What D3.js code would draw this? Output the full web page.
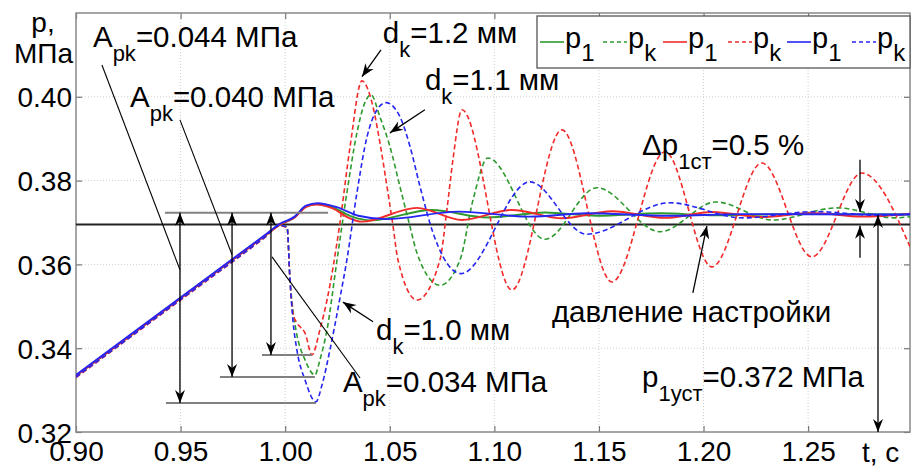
<!DOCTYPE html>
<html>
<head>
<meta charset="utf-8">
<script src="https://cdn.jsdelivr.net/npm/d3@7"></script>
<style>
body { margin: 0; background: #fff; }
svg text { font-family: "Liberation Sans", Arial, sans-serif; fill: #000; }
</style>
</head>
<body>
<svg id="chart" width="911" height="469"></svg>
<script>
// axis ticks
let xTicks = [0.90, 0.95, 1.00, 1.05, 1.10, 1.15, 1.20, 1.25];
let yTicks = [0.32, 0.34, 0.36, 0.38, 0.40];

// p_k (chamber pressure, dashed) and p_1 (solid), one per d_k, [t, p]
let pkGreen = [[0.9,0.3332],[0.95,0.3517],[0.99,0.3665],[0.9975,0.3693],[1.0009,0.3689],[1.0023,0.3563],[1.0037,0.3491],[1.0056,0.3432],
	[1.0095,0.3372],[1.0142,0.3336],[1.0166,0.3372],[1.0200,0.3444],[1.0248,0.3611],[1.0295,0.3771],[1.0343,0.3914],
	[1.0381,0.3986],[1.0410,0.4005],[1.0453,0.3952],[1.0501,0.3881],[1.0549,0.3785],[1.0597,0.3690],[1.0630,0.3627],
	[1.0740,0.3550],[1.0836,0.3611],[1.0898,0.3754],[1.0969,0.3854],[1.1242,0.3660],[1.1490,0.3783],[1.1792,0.3678],
	[1.2059,0.3749],[1.2332,0.3706],[1.2638,0.3735],[1.2915,0.3711],[1.2987,0.3714]];
let pkRed = [[0.9,0.3330],[0.95,0.3515],[0.99,0.3663],[0.9975,0.3692],[1.0009,0.3688],[1.0023,0.3563],[1.0037,0.3484],[1.0056,0.3460],
	[1.0071,0.3451],[1.0095,0.3436],[1.0128,0.3384],[1.0166,0.3444],[1.0200,0.3515],[1.0262,0.3700],[1.0310,0.3880],
	[1.0367,0.4038],[1.0415,0.3986],[1.0453,0.3890],[1.0487,0.3785],[1.0516,0.3690],[1.0539,0.3611],[1.0630,0.3515],
	[1.0740,0.3611],[1.0773,0.3730],[1.0802,0.3850],[1.0845,0.3969],[1.1084,0.3539],[1.1323,0.3921],[1.1562,0.3558],
	[1.1816,0.3869],[1.2040,0.3594],[1.2279,0.3842],[1.2518,0.3618],[1.2757,0.3818],[1.2987,0.3642]];
let pkBlue = [[0.9,0.3331],[0.95,0.3516],[0.99,0.3664],[0.9975,0.3693],[1.0009,0.3689],[1.0023,0.3563],[1.0037,0.3467],[1.0056,0.3396],
	[1.0095,0.3324],[1.0147,0.3272],[1.0176,0.3312],[1.0214,0.3396],[1.0262,0.3520],[1.0295,0.3611],[1.0343,0.3771],
	[1.0391,0.3904],[1.0439,0.3969],[1.0482,0.3986],[1.0549,0.3952],[1.0597,0.3881],[1.0645,0.3785],[1.0707,0.3675],
	[1.0755,0.3618],[1.0840,0.3578],[1.1170,0.3797],[1.1440,0.3672],[1.1839,0.3747],[1.2188,0.3711],[1.2533,0.3726],
	[1.2850,0.3717],[1.2987,0.3720]];
let p1Green = [[0.9,0.3334],[0.95,0.3519],[0.99,0.3667],[0.9975,0.3695],[1.0045,0.3712],[1.0100,0.3738],[1.0150,0.3744],[1.0240,0.3733],
	[1.0320,0.3714],[1.0410,0.3705],[1.0700,0.3730],[1.0969,0.3712],[1.1242,0.3724],[1.1490,0.3716],[1.1792,0.3722],
	[1.2059,0.3717],[1.2400,0.3720],[1.2987,0.3719]];
let p1Red = [[0.9,0.3334],[0.95,0.3519],[0.99,0.3667],[0.9975,0.3695],[1.0045,0.3712],[1.0100,0.3737],[1.0148,0.3743],[1.0230,0.3733],
	[1.0300,0.3712],[1.0367,0.3702],[1.0630,0.3735],[1.0845,0.3706],[1.1084,0.3730],[1.1323,0.3710],[1.1562,0.3727],
	[1.1816,0.3711],[1.2040,0.3725],[1.2279,0.3713],[1.2518,0.3723],[1.2757,0.3714],[1.2987,0.3721]];
let p1Blue = [[0.9,0.3336],[0.95,0.3521],[0.99,0.3669],[0.9975,0.3697],[1.0045,0.3714],[1.0100,0.3740],[1.0155,0.3746],[1.0250,0.3736],
	[1.0350,0.3716],[1.0482,0.3708],[1.0830,0.3726],[1.1170,0.3714],[1.1440,0.3722],[1.1839,0.3716],[1.2188,0.3720],
	[1.2987,0.3719]];

// draw order and legend order
let series = [
	{data: p1Green, color: '#2e9a2e', dashed: false, name: 'p', sub: '1'},
	{data: pkGreen, color: '#2e9a2e', dashed: true,  name: 'p', sub: 'k'},
	{data: p1Red,   color: '#f22a2a', dashed: false, name: 'p', sub: '1'},
	{data: pkRed,   color: '#f22a2a', dashed: true,  name: 'p', sub: 'k'},
	{data: p1Blue,  color: '#2626f2', dashed: false, name: 'p', sub: '1'},
	{data: pkBlue,  color: '#2626f2', dashed: true,  name: 'p', sub: 'k'}
];

// annotations, all in data units
let setPressure = 0.3695;
let levelLines = [[0.3723, 0.9425, 1.0205], [0.3384, 0.9889, 1.0128], [0.3331, 0.9688, 1.0142], [0.3269, 0.9430, 1.0147]];
let ampArrows = [[0.9497, 0.3723, 0.3269], [0.9746, 0.3723, 0.3331], [0.9932, 0.3723, 0.3384], [1.2834, 0.3718, 0.3200]];
let leaders = [[0.9124, 0.4076, 0.9497, 0.3587], [0.9497, 0.3945, 0.9746, 0.3623], [0.9937, 0.3618, 1.0358, 0.3329]];
let pointers = [[1.0458, 0.4112, 1.0367, 0.4048], [1.0668, 0.3969, 1.0501, 0.3914], [1.0420, 0.3463, 1.0276, 0.3510],
	[1.1949, 0.3532, 1.2016, 0.3692], [1.2748, 0.3850, 1.2748, 0.3725], [1.2748, 0.3616, 1.2748, 0.3692]];
let labels = [
	{t: 0.9081, p: 0.4119, main: 'A', sub: 'pk', rest: '=0.044 МПа'},
	{t: 0.9258, p: 0.3976, main: 'A', sub: 'pk', rest: '=0.040 МПа'},
	{t: 1.0276, p: 0.3296, main: 'A', sub: 'pk', rest: '=0.034 МПа'},
	{t: 1.0467, p: 0.4129, main: 'd', sub: 'k', rest: '=1.2 мм'},
	{t: 1.0668, p: 0.4017, main: 'd', sub: 'k', rest: '=1.1 мм'},
	{t: 1.0434, p: 0.3420, main: 'd', sub: 'k', rest: '=1.0 мм'},
	{t: 1.1706, p: 0.3861, main: 'Δp', sub: '1ст', rest: '=0.5 %'},
	{t: 1.1275, p: 0.3463, main: 'давление настройки', sub: '', rest: ''},
	{t: 1.1706, p: 0.3307, main: 'p', sub: '1уст', rest: '=0.372 МПа'}
];

let plotLeft = 76, plotRight = 910, plotTop = 13, plotBottom = 432;

let x = d3.scaleLinear().domain([0.9, 1.2987]).range([plotLeft, plotRight]);
let y = d3.scaleLinear().domain([0.32, 0.42]).range([plotBottom, plotTop]);

let svg = d3.select('#chart');

let defs = svg.append('defs');
defs.append('clipPath').attr('id', 'plotclip')
		.append('rect').attr('x', plotLeft).attr('y', plotTop)
		.attr('width', plotRight - plotLeft).attr('height', plotBottom - plotTop);
defs.append('marker')
		.attr('id', 'head')
		.attr('viewBox', '-14 -7 16 14')
		.attr('refX', 0).attr('refY', 0)
		.attr('markerWidth', 16).attr('markerHeight', 14)
		.attr('markerUnits', 'userSpaceOnUse')
		.attr('orient', 'auto-start-reverse')
		.append('path').attr('d', 'M0,0 L-13,-5 L-9,0 L-13,5 Z').attr('fill', '#000');

// grid
svg.append('g').selectAll('line').data(xTicks.slice(1)).enter().append('line')
		.attr('x1', d => x(d)).attr('x2', d => x(d)).attr('y1', plotTop).attr('y2', plotBottom)
		.attr('stroke', '#cfcfcf').attr('stroke-dasharray', '1,2');
svg.append('g').selectAll('line').data(yTicks.slice(1)).enter().append('line')
		.attr('x1', plotLeft).attr('x2', plotRight).attr('y1', d => y(d)).attr('y2', d => y(d))
		.attr('stroke', '#cfcfcf').attr('stroke-dasharray', '1,2');

// axes
let xAxisG = svg.append('g').attr('transform', 'translate(0,' + plotBottom + ')')
		.call(d3.axisBottom(x).tickValues(xTicks).tickSizeInner(-6).tickSizeOuter(0).tickFormat(d3.format('.2f')));
let topAxisG = svg.append('g').attr('transform', 'translate(0,' + plotTop + ')')
		.call(d3.axisTop(x).tickValues(xTicks).tickSizeInner(-6).tickSizeOuter(0).tickFormat(''));
let yAxisG = svg.append('g').attr('transform', 'translate(' + plotLeft + ',0)')
		.call(d3.axisLeft(y).tickValues(yTicks).tickSizeInner(-6).tickSizeOuter(0).tickFormat(d3.format('.2f')));
let rightAxisG = svg.append('g').attr('transform', 'translate(' + plotRight + ',0)')
		.call(d3.axisRight(y).tickValues(yTicks).tickSizeInner(-6).tickSizeOuter(0).tickFormat(''));

[xAxisG, topAxisG, yAxisG, rightAxisG].forEach(function(g) {
	g.select('.domain').remove();
	g.selectAll('.tick line').attr('stroke', '#777').attr('stroke-width', 1.2);
	g.selectAll('.tick text').attr('font-size', 28).attr('fill', '#000');
});
xAxisG.selectAll('.tick text').attr('y', 9).attr('dy', '0.71em');
yAxisG.selectAll('.tick text').attr('x', -4).attr('dy', '0.36em');

svg.append('rect').attr('x', plotLeft).attr('y', plotTop)
		.attr('width', plotRight - plotLeft).attr('height', plotBottom - plotTop)
		.attr('fill', 'none').attr('stroke', '#888').attr('stroke-width', 1.5);

// axis titles
svg.append('text').attr('x', 43).attr('y', 32).attr('font-size', 28).attr('text-anchor', 'middle').text('p,');
svg.append('text').attr('x', 73).attr('y', 63).attr('font-size', 28).attr('text-anchor', 'end').text('МПа');
svg.append('text').attr('x', 862).attr('y', 462).attr('font-size', 28).text('t, c');

// setting pressure line
svg.append('line').attr('x1', plotLeft).attr('x2', plotRight)
		.attr('y1', y(setPressure)).attr('y2', y(setPressure))
		.attr('stroke', '#222').attr('stroke-width', 2);

// curves
let line = d3.line().x(d => x(d[0])).y(d => y(d[1])).curve(d3.curveMonotoneX);
svg.append('g').attr('clip-path', 'url(#plotclip)')
		.selectAll('path').data(series).enter().append('path')
		.attr('d', d => line(d.data))
		.attr('fill', 'none')
		.attr('stroke', d => d.color)
		.attr('stroke-width', d => d.dashed ? 1.6 : 1.9)
		.attr('stroke-dasharray', d => d.dashed ? '5,3' : null);

// level marks and arrows
let ann = svg.append('g');
ann.selectAll('.level').data(levelLines).enter().append('line')
		.attr('x1', d => x(d[1])).attr('x2', d => x(d[2])).attr('y1', d => y(d[0])).attr('y2', d => y(d[0]))
		.attr('stroke', '#808080').attr('stroke-width', 2);
ann.selectAll('.amp').data(ampArrows).enter().append('line')
		.attr('x1', d => x(d[0])).attr('x2', d => x(d[0])).attr('y1', d => y(d[1])).attr('y2', d => y(d[2]))
		.attr('stroke', '#000').attr('stroke-width', 1.3)
		.attr('marker-start', 'url(#head)').attr('marker-end', 'url(#head)');
ann.selectAll('.leader').data(leaders).enter().append('line')
		.attr('x1', d => x(d[0])).attr('y1', d => y(d[1])).attr('x2', d => x(d[2])).attr('y2', d => y(d[3]))
		.attr('stroke', '#000').attr('stroke-width', 1.1);
ann.selectAll('.pointer').data(pointers).enter().append('line')
		.attr('x1', d => x(d[0])).attr('y1', d => y(d[1])).attr('x2', d => x(d[2])).attr('y2', d => y(d[3]))
		.attr('stroke', '#000').attr('stroke-width', 1.3)
		.attr('marker-end', 'url(#head)');

// text with subscripts
ann.selectAll('.label').data(labels).enter().append('text')
		.attr('x', d => x(d.t)).attr('y', d => y(d.p)).attr('font-size', 29.5)
		.each(function(d) {
			let t = d3.select(this);
			t.append('tspan').text(d.main);
			if (d.sub) {
				t.append('tspan').attr('font-size', 22).attr('dy', 14).text(d.sub);
				t.append('tspan').attr('dy', -14).text(d.rest);
			}
		});

// legend
let lg = svg.append('g');
lg.append('rect').attr('x', 537).attr('y', 16).attr('width', 373).attr('height', 52)
		.attr('fill', '#fff').attr('stroke', '#555').attr('stroke-width', 1.3);
let legendX = [540, 603, 663, 728, 787, 852];
let item = lg.selectAll('.item').data(series).enter().append('g')
		.attr('transform', (d, i) => 'translate(' + legendX[i] + ',0)');
item.append('line').attr('x1', 0).attr('x2', 24).attr('y1', 42).attr('y2', 42)
		.attr('stroke', d => d.color).attr('stroke-width', 1.6)
		.attr('stroke-dasharray', d => d.dashed ? '4,3' : null);
item.append('text').attr('x', 25).attr('y', 48).attr('font-size', 29)
		.each(function(d) {
			let t = d3.select(this);
			t.append('tspan').text(d.name);
			t.append('tspan').attr('font-size', 24).attr('dy', 13).text(d.sub);
		});
</script>
</body>
</html>
